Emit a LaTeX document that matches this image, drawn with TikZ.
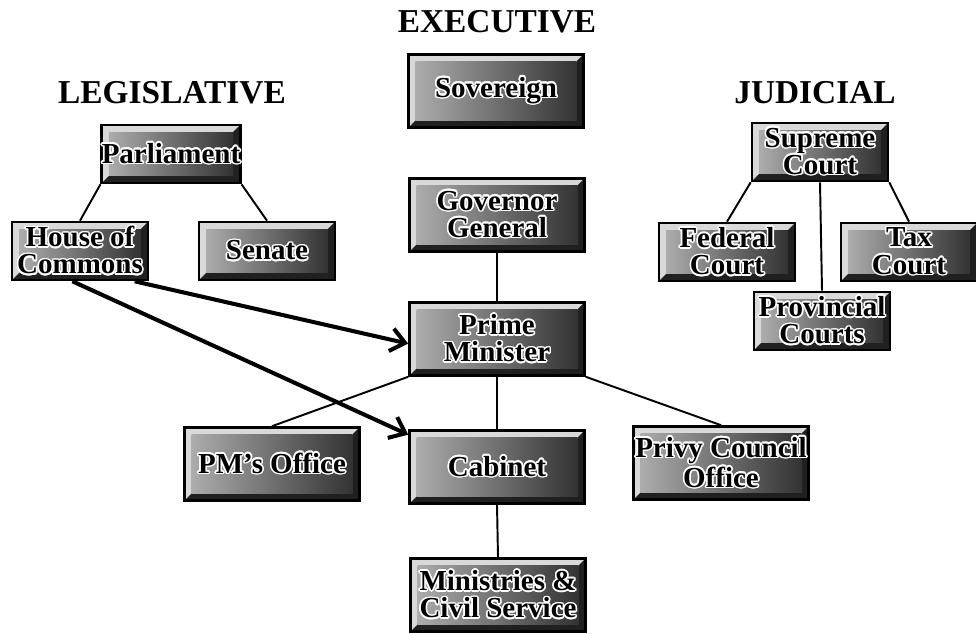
\documentclass[tikz,border=0pt]{standalone}
\usepackage{fontspec}
\setmainfont{Liberation Serif}
\usepackage{contour}
\contourlength{0.9pt}
\usepackage{tikz}
\usetikzlibrary{arrows.meta}
\tikzset{>={Straight Barb[length=8pt,width=13pt]}}
\newcommand{\boxtext}[1]{\contour{white}{#1}}
\tikzset{
  branch/.style={font=\bfseries\fontsize{19}{19}\selectfont, inner sep=0pt},
  govbox/.style={draw=black, line width=1.5pt, inner sep=0pt, align=center,
    font=\bfseries\fontsize{16.5}{15.5}\selectfont,
    path picture={
      \fill[gray!30] (path picture bounding box.south west) rectangle (path picture bounding box.north east);
      \fill[gray!25!black] (path picture bounding box.south west) -- (path picture bounding box.south east)
        -- (path picture bounding box.north east) -- ([shift={(-4pt,-4pt)}]path picture bounding box.north east)
        -- ([shift={(-4pt,4pt)}]path picture bounding box.south east) -- ([shift={(4pt,4pt)}]path picture bounding box.south west) -- cycle;
      \shade[left color=gray!65, right color=gray!40!black]
        ([shift={(4pt,-4pt)}]path picture bounding box.north west) rectangle ([shift={(-4pt,4pt)}]path picture bounding box.south east);
    }},
  bigbox/.style={govbox, minimum width=3.5cm, minimum height=1.46cm},
  smallbox/.style={govbox, minimum width=2.72cm, minimum height=1.16cm},
  link/.style={draw=black, line width=1.1pt},
  arrowlink/.style={->, draw=black, line width=2.3pt}
}
\begin{document}
\begin{tikzpicture}[x=0.02cm,y=-0.02cm]
\useasboundingbox[fill=white] (0,0) rectangle (976,634);
    % Branch titles
    \node[branch] (exec) at (497,22) {EXECUTIVE};
    \node[branch] (leg) at (172,93) {LEGISLATIVE};
    \node[branch] (jud) at (815,93) {JUDICIAL};
    % Executive
    \node[bigbox] (sov) at (496,91) {\boxtext{Sovereign}};
    \node[bigbox] (gov) at (497,215) {\boxtext{Governor}\\\boxtext{General}};
    \node[bigbox] (pm) at (497,339) {\boxtext{Prime}\\\boxtext{Minister}};
    \node[bigbox] (cab) at (497,467) {\boxtext{Cabinet}};
    \node[bigbox] (min) at (498,595) {\boxtext{Ministries \&}\\\boxtext{Civil Service}};
    \node[bigbox] (pmo) at (272,464) {\boxtext{PM's Office}};
    \node[bigbox] (pco) at (721,463) {\boxtext{Privy Council}\\\boxtext{Office}};
    % Legislative
    \node[smallbox] (parl) at (171,154) {\boxtext{Parliament}};
    \node[smallbox] (hoc) at (80,251) {\boxtext{House of}\\\boxtext{Commons}};
    \node[smallbox] (sen) at (267,251) {\boxtext{Senate}};
    % Judicial
    \node[smallbox] (sup) at (820,152) {\boxtext{Supreme}\\\boxtext{Court}};
    \node[smallbox] (fed) at (727,252) {\boxtext{Federal}\\\boxtext{Court}};
    \node[smallbox] (tax) at (909,252) {\boxtext{Tax}\\\boxtext{Court}};
    \node[smallbox] (prov) at (822,321) {\boxtext{Provincial}\\\boxtext{Courts}};
    % Links
    \draw[link] (parl.south west) -- (hoc.north);
    \draw[link] (parl.south east) -- (sen.north);
    \draw[link] (sup.south west) -- (fed.north);
    \draw[link] (sup.south east) -- (tax.north);
    \draw[link] (sup.south) -- (prov.north);
    \draw[link] (gov.south) -- (pm.north);
    \draw[link] (pm.south) -- (cab.north);
    \draw[link] (cab.south) -- (min.north);
    \draw[link] (pm.south west) -- (pmo.north);
    \draw[link] (pm.south east) -- (pco.north);
    % Commons holds PM and Cabinet to account
    \draw[arrowlink] (hoc.-29) -- (pm.183);
    \draw[arrowlink] (hoc.-104) -- (cab.160);
\end{tikzpicture}
\end{document}
